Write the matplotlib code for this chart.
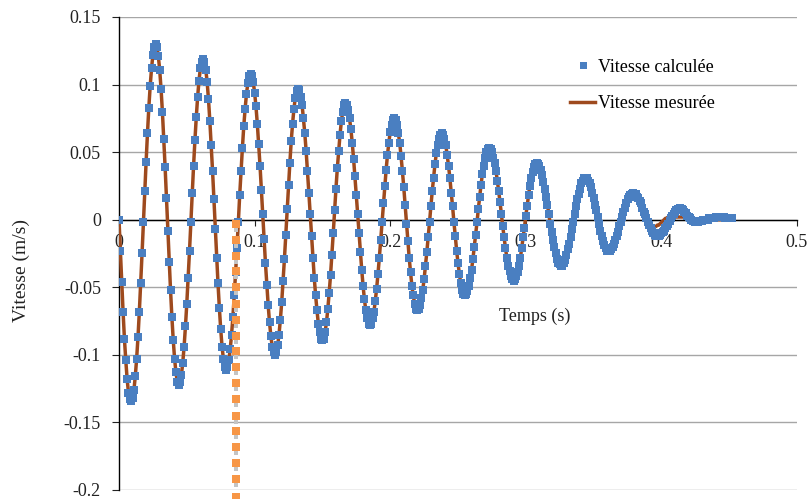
import matplotlib.pyplot as plt
import numpy as np
from matplotlib import transforms

# Times-like look, as in the Excel original
plt.rcParams['font.family'] = ['Liberation Serif', 'DejaVu Serif']
plt.rcParams['font.size'] = 13

# sampling step of both series (s)
pas_temps = 0.001

# calculated velocity (m/s), one value per sample
vitesse_calculee = [
    0.000, -0.023, -0.046, -0.068, -0.088, -0.104, -0.118, -0.128, -0.133, -0.134,
    -0.132, -0.126, -0.116, -0.103, -0.087, -0.068, -0.047, -0.025, -0.002, 0.021, 0.043, 0.064, 0.083, 0.099, 0.112, 0.122, 0.128, 0.130,
    0.128, 0.121, 0.111, 0.097, 0.080, 0.060, 0.039, 0.016, -0.008, -0.031, -0.052, -0.072, -0.089, -0.103, -0.113, -0.120, -0.122,
    -0.120, -0.115, -0.106, -0.094, -0.079, -0.062, -0.043, -0.023, -0.002, 0.020, 0.040, 0.059, 0.076, 0.091, 0.103, 0.112, 0.117, 0.119,
    0.117, 0.111, 0.102, 0.089, 0.073, 0.055, 0.036, 0.015, -0.007, -0.028, -0.047, -0.065, -0.081, -0.094, -0.103, -0.109, -0.111,
    -0.109, -0.104, -0.096, -0.085, -0.072, -0.056, -0.039, -0.021, -0.002, 0.018, 0.036, 0.053, 0.069, 0.082, 0.093, 0.101, 0.106, 0.108,
    0.106, 0.102, 0.094, 0.084, 0.071, 0.056, 0.040, 0.022, 0.004, -0.014, -0.032, -0.048, -0.063, -0.076, -0.086, -0.094, -0.098, -0.100,
    -0.098, -0.093, -0.085, -0.074, -0.061, -0.045, -0.029, -0.011, 0.008, 0.026, 0.042, 0.058, 0.071, 0.082, 0.090, 0.095, 0.097,
    0.096, 0.091, 0.085, 0.075, 0.064, 0.051, 0.036, 0.020, 0.004, -0.012, -0.028, -0.043, -0.056, -0.067, -0.077, -0.083, -0.088, -0.089,
    -0.088, -0.083, -0.076, -0.066, -0.054, -0.041, -0.026, -0.010, 0.007, 0.023, 0.038, 0.051, 0.063, 0.073, 0.080, 0.085, 0.086,
    0.085, 0.081, 0.075, 0.067, 0.057, 0.045, 0.032, 0.018, 0.004, -0.010, -0.024, -0.037, -0.049, -0.059, -0.067, -0.073, -0.077, -0.078,
    -0.077, -0.073, -0.068, -0.060, -0.051, -0.040, -0.028, -0.015, -0.002, 0.012, 0.025, 0.037, 0.048, 0.057, 0.065, 0.070, 0.074, 0.075,
    0.074, 0.070, 0.064, 0.057, 0.047, 0.036, 0.024, 0.011, -0.003, -0.016, -0.028, -0.039, -0.049, -0.056, -0.062, -0.066, -0.067,
    -0.066, -0.063, -0.058, -0.052, -0.044, -0.034, -0.024, -0.013, -0.002, 0.010, 0.021, 0.031, 0.041, 0.049, 0.055, 0.060, 0.063, 0.064,
    0.063, 0.060, 0.055, 0.048, 0.040, 0.031, 0.020, 0.010, -0.002, -0.012, -0.023, -0.032, -0.040, -0.047, -0.052, -0.055, -0.056,
    -0.055, -0.053, -0.049, -0.043, -0.037, -0.029, -0.020, -0.011, -0.002, 0.008, 0.017, 0.026, 0.034, 0.040, 0.046, 0.050, 0.052, 0.053,
    0.052, 0.050, 0.046, 0.042, 0.036, 0.029, 0.021, 0.013, 0.004, -0.005, -0.013, -0.021, -0.028, -0.034, -0.038, -0.042, -0.044, -0.045,
    -0.044, -0.042, -0.039, -0.034, -0.028, -0.021, -0.013, -0.006, 0.003, 0.010, 0.018, 0.025, 0.031, 0.035, 0.039, 0.041, 0.042,
    0.041, 0.040, 0.037, 0.033, 0.028, 0.023, 0.017, 0.011, 0.004, -0.003, -0.009, -0.015, -0.020, -0.025, -0.029, -0.032, -0.033, -0.034,
    -0.034, -0.032, -0.030, -0.026, -0.022, -0.018, -0.013, -0.007, -0.002, 0.004, 0.010, 0.015, 0.019, 0.023, 0.027, 0.029, 0.031, 0.031,
    0.031, 0.029, 0.027, 0.024, 0.020, 0.016, 0.011, 0.007, 0.002, -0.003, -0.008, -0.012, -0.016, -0.019, -0.021, -0.023, -0.023,
    -0.023, -0.022, -0.020, -0.018, -0.015, -0.012, -0.009, -0.005, -0.002, 0.002, 0.006, 0.009, 0.012, 0.015, 0.017, 0.018, 0.019, 0.020,
    0.019, 0.019, 0.017, 0.016, 0.014, 0.012, 0.009, 0.006, 0.004, 0.001, -0.002, -0.004, -0.006, -0.008, -0.010, -0.011, -0.012, -0.012,
    -0.012, -0.011, -0.010, -0.009, -0.008, -0.006, -0.005, -0.003, -0.001, 0.001, 0.003, 0.004, 0.006, 0.007, 0.008, 0.008, 0.009,
    0.008, 0.007, 0.006, 0.005, 0.003, 0.002, 0.001, 0.000, -0.001, -0.001, -0.002, -0.002, -0.002, -0.001, -0.001, -0.001,
    0.000, 0.000, 0.000, 0.000, 0.001, 0.001, 0.001, 0.001, 0.001, 0.002, 0.002, 0.002, 0.002, 0.002, 0.002, 0.002,
    0.001, 0.001, 0.001, 0.001, 0.001, 0.001,
]

# measured velocity: same as calculated up to ~0.38 s, then its own damped end
fin_mesuree = [
    0.019, 0.018, 0.017, 0.015, 0.013, 0.011, 0.009, 0.006, 0.004, 0.002, 0.000, -0.002, -0.003,
    -0.004, -0.005, -0.005, -0.005, -0.004, -0.004, -0.003, -0.002, -0.001, 0.000, 0.001, 0.001,
    0.002, 0.002, 0.002, 0.002, 0.002, 0.002, 0.002, 0.002, 0.002, 0.002, 0.002, 0.002, 0.002, 0.002,
    0.001, 0.000, 0.000, 0.000, 0.000, 0.000, 0.000, 0.000, 0.000, 0.000, 0.000, 0.000, 0.000, 0.000,
    0.000, 0.000, 0.000, 0.000, 0.000, 0.000, 0.000, 0.000, 0.000, 0.000, 0.000, 0.000, 0.000, 0.000,
    0.000, 0.000, 0.000, 0.000, 0.000, 0.000,
]
vitesse_mesuree = vitesse_calculee[:380] + fin_mesuree

# stray orange marker series (vertical dotted column)
repere_t = [0.0866] * 18
repere_v = [-0.003, -0.015, -0.027, -0.038, -0.050, -0.062, -0.074, -0.086, -0.097,
            -0.109, -0.121, -0.133, -0.145, -0.156, -0.168, -0.180, -0.192, -0.205]

x_ticks = [0, 0.1, 0.2, 0.3, 0.4, 0.5]
x_labels = ['0', '0.1', '0.2', '0.3', '0.4', '0.5']
y_ticks = [0.15, 0.1, 0.05, 0, -0.05, -0.1, -0.15, -0.2]
y_labels = ['0.15', '0.1', '0.05', '0', '-0.05', '-0.1', '-0.15', '-0.2']

temps_calc = np.arange(len(vitesse_calculee)) * pas_temps
temps_mes = np.arange(len(vitesse_mesuree)) * pas_temps

W, H = 810, 499
fig = plt.figure(figsize=(W / 100, H / 100), dpi=100)
ax = fig.add_axes([119 / W, 9 / H, (797 - 119) / W, (490 - 17) / H])

# measured line below, calculated squares on top
h_mes, = ax.plot(temps_mes, vitesse_mesuree, '-', color='#9E4A1E', lw=2.5, zorder=3)
h_calc, = ax.plot(temps_calc, vitesse_calculee, 's', color='#4A7FC1', ms=5.6, mew=0, zorder=4)

# orange column with its small grey shadows just beneath each square
ombre = transforms.offset_copy(ax.transData, fig=fig, x=0, y=-6, units='dots')
ax.plot(repere_t, repere_v, 's', color='#c4c4c4', ms=3.5, mew=0, transform=ombre,
        clip_on=False, zorder=5)
ax.plot(repere_t, repere_v, 's', color='#F79646', ms=5.6, mew=0, clip_on=False, zorder=6)

ax.set_xlim(0, 0.5)
ax.set_ylim(-0.2, 0.15)
ax.set_xticks(x_ticks)
ax.set_xticklabels(x_labels)
ax.set_yticks(y_ticks)
ax.set_yticklabels(y_labels)

ax.grid(axis='y', color='#a6a6a6', lw=1)
ax.grid(axis='x', visible=False)
ax.set_axisbelow(True)

ax.spines['bottom'].set_position(('data', 0))
ax.spines['top'].set_visible(False)
ax.spines['right'].set_visible(False)
for s in ['left', 'bottom']:
    ax.spines[s].set_color('black')
    ax.spines[s].set_linewidth(1)
ax.tick_params(axis='x', direction='out', length=4, pad=6, colors='#222222')
ax.tick_params(axis='y', direction='out', length=5, pad=8, colors='#222222')

fig.text(535 / W, 1 - 316 / H, 'Temps (s)', ha='center', va='center', color='#222222')
fig.text(21 / W, 1 - 271 / H, 'Vitesse (m/s)', rotation=90, ha='center', va='center',
         color='#222222', fontsize=14)

ax.legend([h_calc, h_mes], ['Vitesse calculée', 'Vitesse mesurée'],
          loc='center left', bbox_to_anchor=(570 / W, 1 - 85.5 / H),
          bbox_transform=fig.transFigure, frameon=False, borderpad=0,
          borderaxespad=0, handlelength=1.4, handletextpad=0.15, labelspacing=1.1,
          markerscale=0.9)

fig.savefig('out.png', dpi=100)
